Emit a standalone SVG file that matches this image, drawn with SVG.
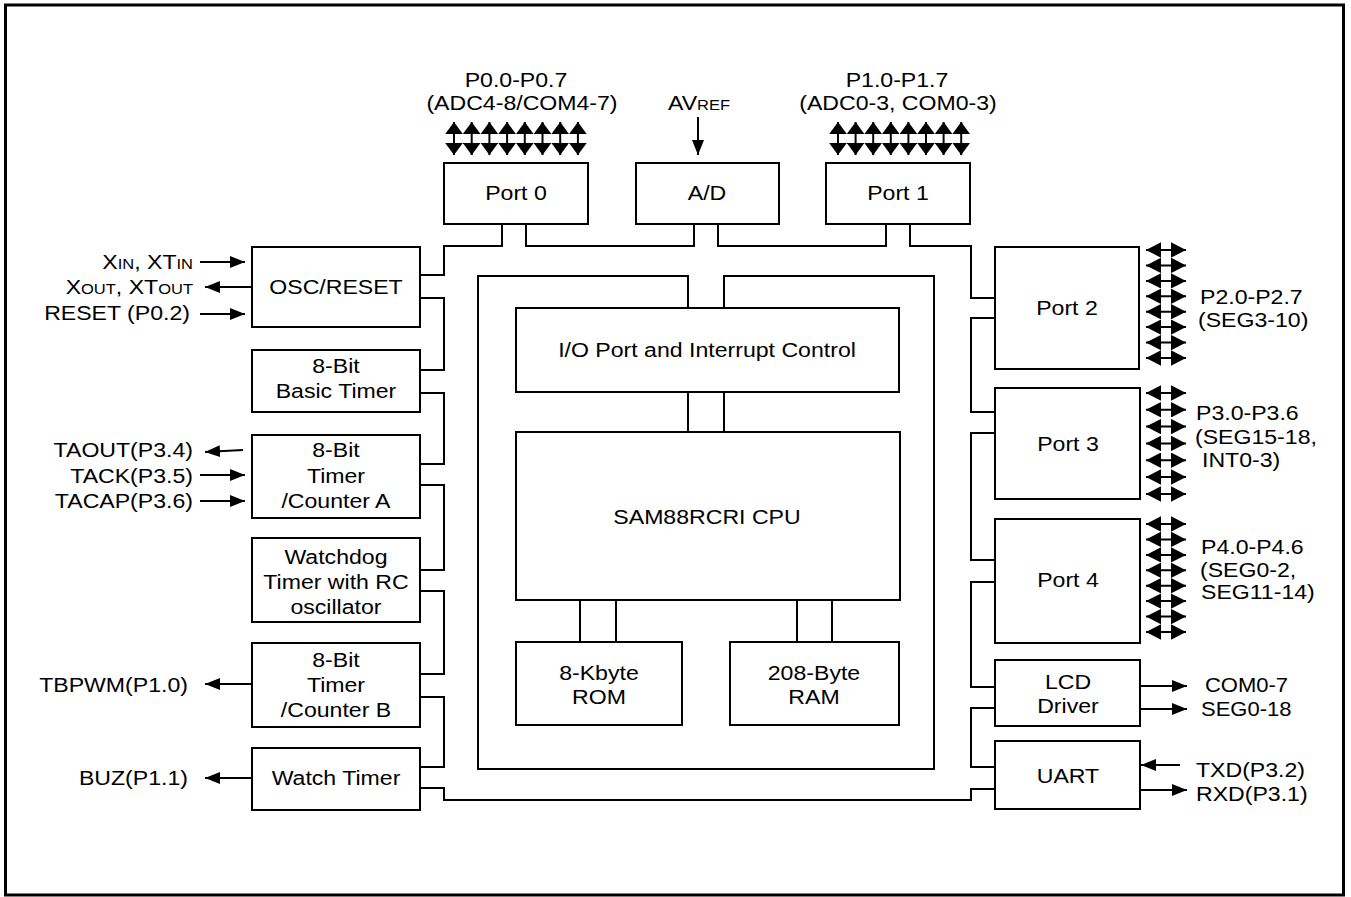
<svg xmlns="http://www.w3.org/2000/svg" width="1351" height="897" viewBox="0 0 1351 897">
<style>
.b{fill:#fff;stroke:#000;stroke-width:2}
.c{fill:none;stroke:#000;stroke-width:2}
.a{fill:none;stroke:#000;stroke-width:2}
text{font-family:"Liberation Sans",Arial,Helvetica,sans-serif;font-size:21px;fill:#000;transform-box:fill-box;transform:scaleX(1.1)}
.m{text-anchor:middle;transform-origin:center}
.e{text-anchor:end;transform-origin:right center}
.s{text-anchor:start;transform-origin:left center}
.sm{font-size:15px}
.t20{font-size:20px}
</style>
<defs>
<marker id="ah" viewBox="0 0 15 12" refX="15" refY="6" markerWidth="15" markerHeight="12" markerUnits="userSpaceOnUse" orient="auto-start-reverse"><path d="M0,0L15,6L0,12z" fill="#000"/></marker>
<marker id="pv" viewBox="0 0 12 17.6" refX="12" refY="8.8" markerWidth="12" markerHeight="17.6" markerUnits="userSpaceOnUse" orient="auto-start-reverse"><path d="M0,0L12,8.8L0,17.6z" fill="#000"/></marker>
<marker id="ph" viewBox="0 0 15 15.4" refX="15" refY="7.7" markerWidth="15" markerHeight="15.4" markerUnits="userSpaceOnUse" orient="auto-start-reverse"><path d="M0,0L15,7.7L0,15.4z" fill="#000"/></marker>
</defs>
<rect x="5.5" y="5" width="1338" height="890" fill="#fff" stroke="#000" stroke-width="3"/>

<g id="connectors">
<path class="c" d="M502,224V246H444V275H420"/>
<path class="c" d="M420,298H444V370H420"/>
<path class="c" d="M420,393H444V464H420"/>
<path class="c" d="M420,485H444V570H420"/>
<path class="c" d="M420,591H444V674H420"/>
<path class="c" d="M420,697H444V767H420"/>
<path class="c" d="M420,788H444V800H971V789H995"/>
<path class="c" d="M995,708H971V767H995"/>
<path class="c" d="M995,582H971V687H995"/>
<path class="c" d="M995,433H971V560H995"/>
<path class="c" d="M995,318H971V412H995"/>
<path class="c" d="M910,224V246H971V298H995"/>
<path class="c" d="M526,224V246H694V224"/>
<path class="c" d="M718,224V246H886V224"/>
<path class="c" d="M688,308V276H478V769H934V276H724V308"/>
<path class="c" d="M688,392V432M724,392V432M580,600V642M616,600V642M797,600V642M832,600V642"/>
<g id="signals">
<line class="a" x1="200" y1="262" x2="245" y2="262" marker-end="url(#ah)"/>
<line class="a" x1="252" y1="287" x2="205" y2="287" marker-end="url(#ah)"/>
<line class="a" x1="200" y1="314" x2="245" y2="314" marker-end="url(#ah)"/>
<line class="a" x1="243" y1="450" x2="205" y2="452" marker-end="url(#ah)"/>
<line class="a" x1="200" y1="475" x2="245" y2="475" marker-end="url(#ah)"/>
<line class="a" x1="200" y1="501" x2="245" y2="501" marker-end="url(#ah)"/>
<line class="a" x1="252" y1="684" x2="205" y2="684" marker-end="url(#ah)"/>
<line class="a" x1="252" y1="778" x2="205" y2="778" marker-end="url(#ah)"/>
<line class="a" x1="1140" y1="686" x2="1187" y2="686" marker-end="url(#ah)"/>
<line class="a" x1="1140" y1="709" x2="1187" y2="709" marker-end="url(#ah)"/>
<line class="a" x1="1180" y1="765" x2="1141" y2="765" marker-end="url(#ah)"/>
<line class="a" x1="1140" y1="790" x2="1187" y2="790" marker-end="url(#ah)"/>
<line class="a" x1="698" y1="117" x2="698" y2="155" marker-end="url(#ah)"/>
</g>
<g id="port0-pins" class="a" marker-start="url(#pv)" marker-end="url(#pv)">
<line x1="454" y1="122" x2="454" y2="155"/><line x1="471.7" y1="122" x2="471.7" y2="155"/><line x1="489.4" y1="122" x2="489.4" y2="155"/><line x1="507.1" y1="122" x2="507.1" y2="155"/><line x1="524.8" y1="122" x2="524.8" y2="155"/><line x1="542.5" y1="122" x2="542.5" y2="155"/><line x1="560.2" y1="122" x2="560.2" y2="155"/><line x1="577.9" y1="122" x2="577.9" y2="155"/>
</g>
<g id="port1-pins" class="a" marker-start="url(#pv)" marker-end="url(#pv)">
<line x1="838" y1="122" x2="838" y2="155"/><line x1="855.6" y1="122" x2="855.6" y2="155"/><line x1="873.2" y1="122" x2="873.2" y2="155"/><line x1="890.8" y1="122" x2="890.8" y2="155"/><line x1="908.4" y1="122" x2="908.4" y2="155"/><line x1="926" y1="122" x2="926" y2="155"/><line x1="943.6" y1="122" x2="943.6" y2="155"/><line x1="961.2" y1="122" x2="961.2" y2="155"/>
</g>
<g id="port2-pins" class="a" marker-start="url(#ph)" marker-end="url(#ph)">
<line x1="1146" y1="250" x2="1186" y2="250"/><line x1="1146" y1="265.4" x2="1186" y2="265.4"/><line x1="1146" y1="280.9" x2="1186" y2="280.9"/><line x1="1146" y1="296.3" x2="1186" y2="296.3"/><line x1="1146" y1="311.7" x2="1186" y2="311.7"/><line x1="1146" y1="327.1" x2="1186" y2="327.1"/><line x1="1146" y1="342.6" x2="1186" y2="342.6"/><line x1="1146" y1="358" x2="1186" y2="358"/>
</g>
<g id="port3-pins" class="a" marker-start="url(#ph)" marker-end="url(#ph)">
<line x1="1146" y1="393" x2="1186" y2="393"/><line x1="1146" y1="409.8" x2="1186" y2="409.8"/><line x1="1146" y1="426.6" x2="1186" y2="426.6"/><line x1="1146" y1="443.4" x2="1186" y2="443.4"/><line x1="1146" y1="460.2" x2="1186" y2="460.2"/><line x1="1146" y1="477" x2="1186" y2="477"/><line x1="1146" y1="494" x2="1186" y2="494"/>
</g>
<g id="port4-pins" class="a" marker-start="url(#ph)" marker-end="url(#ph)">
<line x1="1146" y1="524" x2="1186" y2="524"/><line x1="1146" y1="539.4" x2="1186" y2="539.4"/><line x1="1146" y1="554.9" x2="1186" y2="554.9"/><line x1="1146" y1="570.3" x2="1186" y2="570.3"/><line x1="1146" y1="585.7" x2="1186" y2="585.7"/><line x1="1146" y1="601.1" x2="1186" y2="601.1"/><line x1="1146" y1="616.6" x2="1186" y2="616.6"/><line x1="1146" y1="632" x2="1186" y2="632"/>
</g>
</g>

<g id="port0"><rect class="b" x="444" y="163" width="144" height="61"/><text class="m" x="516" y="200">Port 0</text></g>
<g id="ad"><rect class="b" x="636" y="163" width="143" height="61"/><text class="m" x="707" y="200">A/D</text></g>
<g id="port1"><rect class="b" x="826" y="163" width="144" height="61"/><text class="m" x="898" y="200">Port 1</text></g>

<g id="labels-top">
<text class="m" x="516" y="87">P0.0-P0.7</text>
<text class="m" x="522" y="110">(ADC4-8/COM4-7)</text>
<text class="m" x="699" y="110">AV<tspan class="sm">REF</tspan></text>
<text class="m" x="897" y="87">P1.0-P1.7</text>
<text class="m" x="898" y="110">(ADC0-3, COM0-3)</text>
</g>

<g id="osc"><rect class="b" x="252" y="247" width="168" height="80"/><text class="m" x="336" y="294">OSC/RESET</text></g>
<g id="basic-timer"><rect class="b" x="252" y="350" width="168" height="62"/><text class="m" x="336" y="373">8-Bit</text><text class="m" x="336" y="398">Basic Timer</text></g>
<g id="timer-a"><rect class="b" x="252" y="435" width="168" height="83"/><text class="m" x="336" y="457">8-Bit</text><text class="m" x="336" y="483">Timer</text><text class="m" x="336" y="508">/Counter A</text></g>
<g id="watchdog"><rect class="b" x="252" y="538" width="168" height="84"/><text class="m" x="336" y="564">Watchdog</text><text class="m" x="336" y="589">Timer with RC</text><text class="m" x="336" y="614">oscillator</text></g>
<g id="timer-b"><rect class="b" x="252" y="643" width="168" height="84"/><text class="m" x="336" y="667">8-Bit</text><text class="m" x="336" y="692">Timer</text><text class="m" x="336" y="717">/Counter B</text></g>
<g id="watch-timer"><rect class="b" x="252" y="748" width="168" height="62"/><text class="m" x="336" y="785">Watch Timer</text></g>

<g id="labels-left">
<text class="e" x="193" y="269">X<tspan class="sm">IN</tspan>, XT<tspan class="sm">IN</tspan></text>
<text class="e" x="193" y="294">X<tspan class="sm">OUT</tspan>, XT<tspan class="sm">OUT</tspan></text>
<text class="e" x="190" y="320">RESET (P0.2)</text>
<text class="e" x="193" y="457">TAOUT(P3.4)</text>
<text class="e" x="193" y="483">TACK(P3.5)</text>
<text class="e" x="193" y="508">TACAP(P3.6)</text>
<text class="e" x="188" y="692">TBPWM(P1.0)</text>
<text class="e" x="188" y="785">BUZ(P1.1)</text>
</g>

<g id="io-control"><rect class="b" x="516" y="308" width="383" height="84"/><text class="m" x="707" y="357">I/O Port and Interrupt Control</text></g>
<g id="cpu"><rect class="b" x="516" y="432" width="384" height="168"/><text class="m" x="707" y="524">SAM88RCRI CPU</text></g>
<g id="rom"><rect class="b" x="516" y="642" width="166" height="83"/><text class="m" x="599" y="680">8-Kbyte</text><text class="m" x="599" y="704">ROM</text></g>
<g id="ram"><rect class="b" x="730" y="642" width="169" height="83"/><text class="m" x="814" y="680">208-Byte</text><text class="m" x="814" y="704">RAM</text></g>

<g id="port2"><rect class="b" x="995" y="247" width="144" height="122"/><text class="m" x="1067" y="315">Port 2</text></g>
<g id="port3"><rect class="b" x="995" y="388" width="145" height="111"/><text class="m" x="1068" y="451">Port 3</text></g>
<g id="port4"><rect class="b" x="995" y="519" width="145" height="124"/><text class="m" x="1068" y="587">Port 4</text></g>
<g id="lcd"><rect class="b" x="995" y="660" width="145" height="66"/><text class="m" x="1068" y="689">LCD</text><text class="m" x="1068" y="713">Driver</text></g>
<g id="uart"><rect class="b" x="995" y="741" width="145" height="68"/><text class="m" x="1068" y="783">UART</text></g>

<g id="labels-right">
<text class="s" x="1200" y="304">P2.0-P2.7</text>
<text class="s" x="1198" y="327">(SEG3-10)</text>
<text class="s" x="1196" y="420">P3.0-P3.6</text>
<text class="s" x="1195" y="444">(SEG15-18,</text>
<text class="s" x="1202" y="467">INT0-3)</text>
<text class="s" x="1201" y="554">P4.0-P4.6</text>
<text class="s" x="1200" y="577">(SEG0-2,</text>
<text class="s" x="1201" y="599">SEG11-14)</text>
<text class="s t20" x="1205" y="692">COM0-7</text>
<text class="s t20" x="1201" y="716">SEG0-18</text>
<text class="s" x="1196" y="777">TXD(P3.2)</text>
<text class="s" x="1196" y="801">RXD(P3.1)</text>
</g>
</svg>
